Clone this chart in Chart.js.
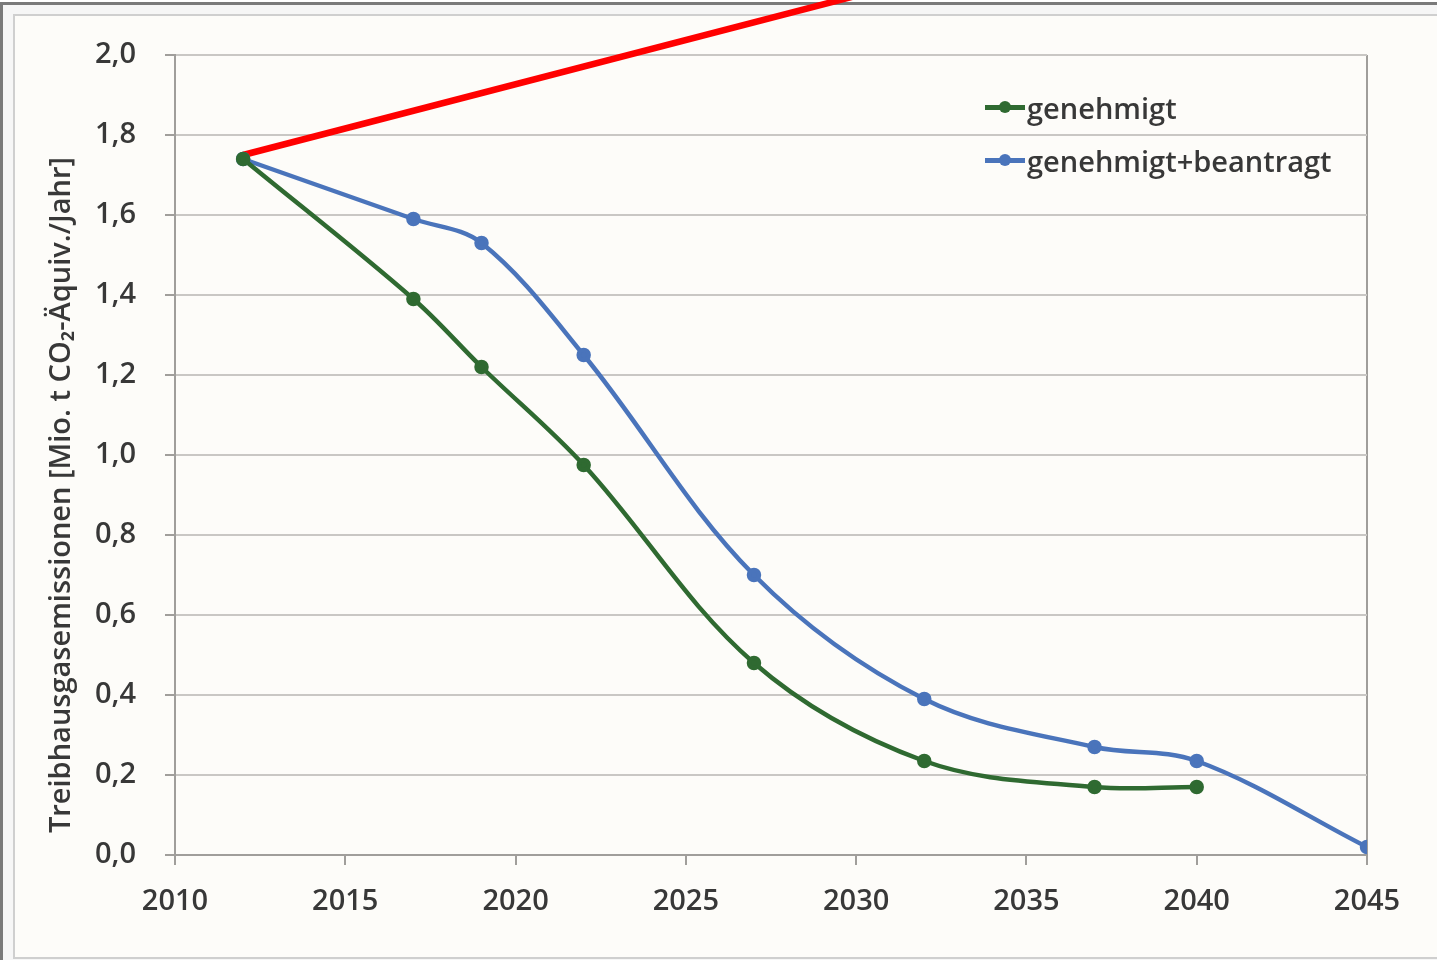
<!DOCTYPE html>
<html>
<head>
  <meta charset="utf-8">
  <title>Treibhausgasemissionen</title>
  <script src="https://cdn.jsdelivr.net/npm/chart.js"></script>
  <style>
    body {
      margin: 0;
      width: 1437px;
      height: 960px;
      overflow: hidden;
      background: #fff;
      font-family: "Open Sans", sans-serif;
      position: relative;
    }
    .outer {
      position: absolute;
      left: 0; top: 2px;
      width: 1450px; height: 970px;
      border-left: 3px solid #7a7a7a;
      border-top: 3px solid #7a7a7a;
      background: #f6f6f6;
    }
    .inner {
      position: absolute;
      left: 13px; top: 14px;
      width: 1440px; height: 941px;
      border: 2px solid #cfcfcf;
      background: #fdfcf9;
    }
    #chart {
      position: absolute;
      left: 0; top: 0;
    }
    .legend {
      position: absolute;
      left: 985px; top: 81px;
      color: #383838;
      font-size: 29px;
      font-weight: 600;
      line-height: 53px;
    }
    .legend .item { display: flex; align-items: center; }
    .legend .sym {
      position: relative;
      width: 40px; height: 5px;
      margin-right: 2px;
    }
    .legend .sym::after {
      content: "";
      position: absolute;
      left: 14px; top: -4px;
      width: 12px; height: 12px;
      border-radius: 50%;
      background: inherit;
    }
  </style>
</head>
<body>
  <div class="outer"></div>
  <div class="inner"></div>
  <canvas id="chart" width="1437" height="960"></canvas>
  <div class="legend">
    <div class="item"><span class="sym" style="background:#2f6a31"></span>genehmigt</div>
    <div class="item"><span class="sym" style="background:#4a74bb"></span>genehmigt+beantragt</div>
  </div>

  <script>
    // ------------------- DATA --------------------
    const yearsGenehmigt = [2012, 2017, 2019, 2022, 2027, 2032, 2037, 2040];
    const genehmigt      = [1.74, 1.39, 1.22, 0.975, 0.48, 0.235, 0.17, 0.17];

    const yearsBeantragt = [2012, 2017, 2019, 2022, 2027, 2032, 2037, 2040, 2045];
    const beantragt      = [1.74, 1.59, 1.53, 1.25, 0.70, 0.39, 0.27, 0.235, 0.02];

    // red annotation line (runs off the top of the picture)
    const redYears = [2012, 2030];
    const redValues = [1.75, 2.148];

    const xTicks = [2010, 2015, 2020, 2025, 2030, 2035, 2040, 2045];
    const yTitle = 'Treibhausgasemissionen [Mio. t CO\u2082-\u00C4quiv./Jahr]';

    const toXY = (xs, ys) => xs.map((x, i) => ({ x: x, y: ys[i] }));

    const textColor = '#383838';
    const gridColor = '#c9c7c4';
    const axisColor = '#a09e9b';
    const tickFont = { family: 'Open Sans', size: 29, weight: '600' };

    // y title sits a bit below the middle of the axis, so draw it ourselves
    const yTitlePlugin = {
      id: 'yTitle',
      afterDraw(chart) {
        const ctx = chart.ctx;
        ctx.save();
        ctx.translate(62, 495);
        ctx.rotate(-Math.PI / 2);
        ctx.font = '600 29px "Open Sans"';
        ctx.fillStyle = textColor;
        ctx.textAlign = 'center';
        ctx.textBaseline = 'middle';
        ctx.fillText(yTitle, 0, 0);
        ctx.restore();
      }
    };

    // ------------------- CHART --------------------
    new Chart(document.getElementById('chart'), {
      type: 'line',
      data: {
        datasets: [
          {
            label: 'genehmigt',
            data: toXY(yearsGenehmigt, genehmigt),
            borderColor: '#2f6a31',
            backgroundColor: '#2f6a31',
            borderWidth: 4.5,
            pointRadius: 5,
            tension: 0.35
          },
          {
            label: 'genehmigt+beantragt',
            data: toXY(yearsBeantragt, beantragt),
            borderColor: '#4a74bb',
            backgroundColor: '#4a74bb',
            borderWidth: 4.5,
            pointRadius: 5,
            tension: 0.35
          },
          {
            label: 'rot',
            data: toXY(redYears, redValues),
            borderColor: '#ff0000',
            borderWidth: 6.5,
            pointRadius: 0,
            clip: false
          }
        ]
      },
      plugins: [yTitlePlugin],
      options: {
        responsive: false,
        animation: false,
        layout: { padding: { top: 55, right: 70, left: 0, bottom: 0 } },
        plugins: {
          legend: { display: false },
          tooltip: { enabled: false }
        },
        scales: {
          x: {
            type: 'linear',
            min: 2010,
            max: 2045,
            afterBuildTicks: (scale) => { scale.ticks = xTicks.map(v => ({ value: v })); },
            afterFit: (scale) => { scale.height = 105; },
            ticks: {
              callback: (v) => String(v),
              color: textColor,
              font: tickFont,
              padding: 19,
              maxRotation: 0
            },
            grid: {
              color: (ctx) => (ctx.tick && ctx.tick.value === 2045) ? axisColor : 'rgba(0,0,0,0)',
              tickColor: axisColor,
              lineWidth: 2,
              tickLength: 10
            },
            border: { color: axisColor, width: 2 }
          },
          y: {
            min: 0,
            max: 2,
            afterFit: (scale) => { scale.width = 175; },
            ticks: {
              stepSize: 0.2,
              callback: (v) => v.toFixed(1).replace('.', ','),
              color: textColor,
              font: tickFont,
              padding: 29
            },
            grid: {
              color: gridColor,
              tickColor: axisColor,
              lineWidth: 2,
              tickLength: 10
            },
            border: { color: axisColor, width: 2 }
          }
        }
      }
    });
  </script>
</body>
</html>
